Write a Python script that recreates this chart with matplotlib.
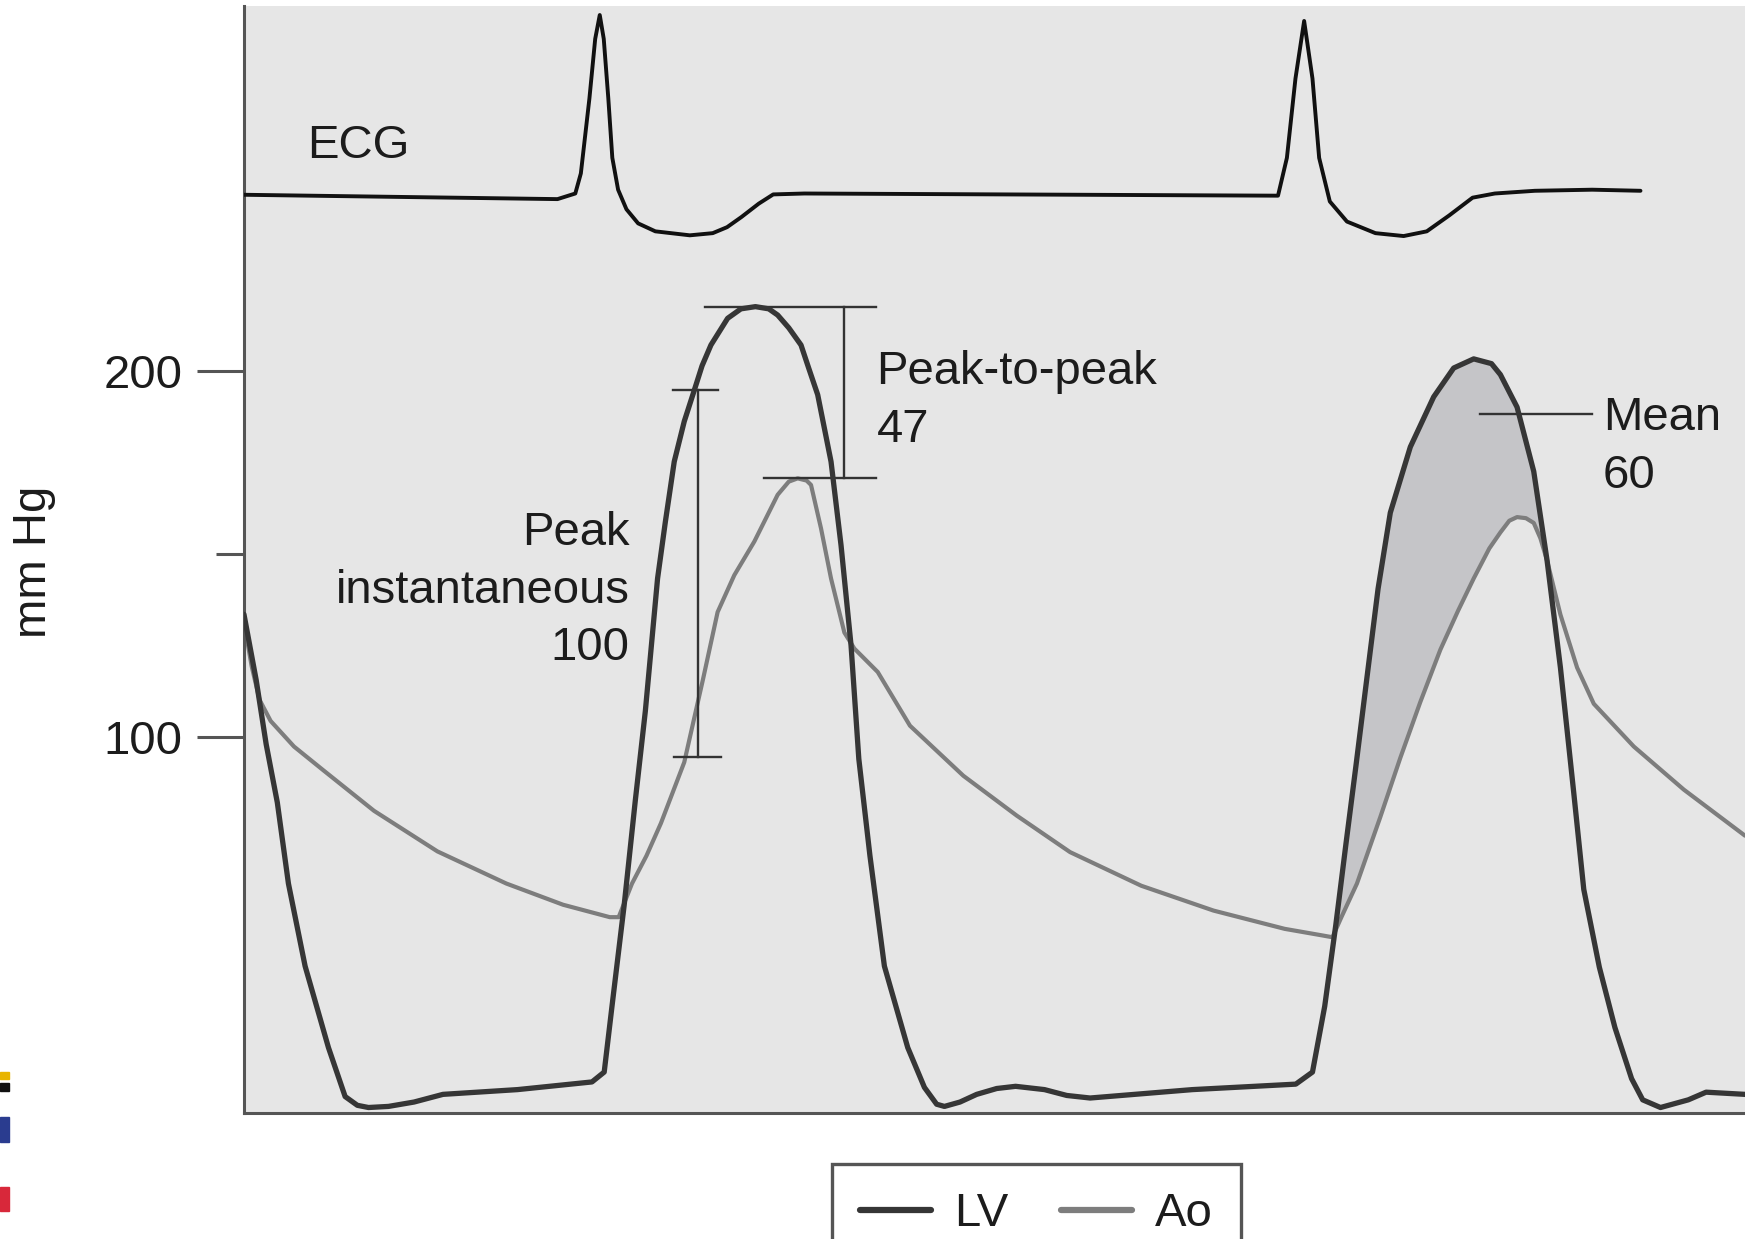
import numpy as np
import matplotlib.pyplot as plt
from matplotlib.patches import Rectangle

plt.rcParams['font.family'] = ['Liberation Sans', 'DejaVu Sans']

# time in ms across the strip, pressures in mm Hg
lv_t = [0, 11, 20, 30, 40, 55, 76, 91, 102, 112, 130, 153, 179, 246, 313, 324,
        331, 342, 352, 361, 372, 379, 387, 396, 405, 412, 420, 435, 447, 460,
        472, 480, 490, 501, 508, 516, 528, 537, 546, 553, 563, 576, 597, 612,
        623, 630, 644, 659, 677, 694, 720, 740, 761, 853, 946, 961, 972, 982,
        991, 1000, 1010, 1020, 1031, 1049, 1070, 1088, 1106, 1122, 1130, 1145,
        1160, 1172, 1184, 1196, 1205, 1219, 1233, 1248, 1258, 1274, 1299, 1315,
        1350]
lv_p = [133.5, 115.5, 97.9, 82.0, 59.8, 37.2, 14.9, 1.5, -0.9, -1.5, -1.2, 0.0,
        2.1, 3.4, 5.5, 8.2, 26.2, 54.0, 82.6, 107.0, 143.3, 158.8, 175.3, 186.3,
        194.8, 201.5, 207.2, 214.5, 217.1, 217.7, 217.1, 215.4, 211.9, 207.2,
        200.8, 193.6, 175.3, 152.4, 125.0, 93.9, 67.4, 37.2, 14.9, 4.0, -0.6,
        -1.2, 0.0, 2.1, 3.7, 4.3, 3.4, 1.8, 1.1, 3.4, 4.9, 8.2, 26.2, 48.5, 70.4,
        91.8, 116.2, 140.5, 161.3, 179.3, 193.0, 200.9, 203.4, 202.1, 199.1,
        190.2, 172.6, 148.2, 118.9, 84.6, 58.2, 36.9, 20.4, 6.4, 0.6, -1.5, 0.6,
        2.7, 2.1]

ao_t = [0, 7, 14, 24, 45, 71, 117, 174, 236, 287, 329, 337, 349, 362, 375, 396,
        413, 426, 441, 459, 480, 490, 498, 506, 510, 519, 528, 540, 549, 570,
        599, 647, 695, 743, 807, 872, 936, 968, 979, 987, 1001, 1022, 1040, 1058,
        1076, 1092, 1106, 1120, 1130, 1138, 1145, 1153, 1160, 1166, 1172, 1184,
        1199, 1214, 1250, 1295, 1350]
ao_p = [131.4, 119.2, 110.1, 104.3, 97.3, 90.9, 79.7, 68.6, 59.8, 54.0, 50.6,
        50.6, 59.8, 67.4, 76.3, 93.0, 115.9, 134.1, 144.2, 153.4, 166.2, 169.8,
        170.7, 170.1, 168.9, 157.0, 143.3, 128.5, 124.1, 117.7, 103.0, 89.3, 78.4,
        68.4, 59.2, 52.4, 47.4, 45.7, 45.1, 50.6, 59.8, 78.0, 94.2, 109.5, 123.8,
        134.5, 143.3, 151.5, 155.9, 159.1, 160.1, 159.8, 158.5, 154.3, 148.2,
        133.4, 118.9, 109.0, 97.3, 85.5, 72.9]

# ECG in mV
ecg_t = [0, 282, 298, 303, 310.7, 315.9, 320, 323.6, 327.7, 331.3, 336.5, 344,
         354.5, 370, 401, 421.6, 434.5, 447.4, 463, 476, 504, 930, 938, 945.7,
         953.5, 961, 967, 976.6, 992, 1017.6, 1043, 1063.8, 1084, 1105, 1125,
         1161, 1212.6, 1256]
ecg_mv = [0.012, -0.012, 0.019, 0.13, 0.544, 0.873, 1.005, 0.873, 0.544, 0.216,
          0.04, -0.068, -0.146, -0.19, -0.212, -0.2, -0.167, -0.111, -0.037,
          0.014, 0.019, 0.007, 0.216, 0.654, 0.972, 0.654, 0.216, -0.025, -0.136,
          -0.2, -0.216, -0.19, -0.102, -0.004, 0.019, 0.034, 0.04, 0.034]

# gradient annotations
inst_t, inst_lv, inst_ao = 408, 195.0, 94.5
p2p_t, lv_peak, ao_peak = 539.5, 217.7, 170.9
mean_start, mean_end = 979, 1172
mean_label_p = 188.4

lv_t = np.array(lv_t); lv_p = np.array(lv_p)
ao_t = np.array(ao_t); ao_p = np.array(ao_p)

fig = plt.figure(figsize=(17.45, 12.39), dpi=100)
ax = fig.add_axes([0.1398, 0.1017, 0.8602, 0.8935])
ax.set_facecolor('#e6e6e6')
ax.set_xlim(0, 1350)
ax.set_ylim(-3, 300)

# shaded area between LV and Ao during second ejection
m_lv = (lv_t >= mean_start) & (lv_t <= mean_end)
m_ao = (ao_t >= mean_start) & (ao_t <= mean_end)
ax.fill(np.concatenate([lv_t[m_lv], ao_t[m_ao][::-1]]),
        np.concatenate([lv_p[m_lv], ao_p[m_ao][::-1]]),
        color='#c5c5c8', lw=0, zorder=1)

ao_line, = ax.plot(ao_t, ao_p, color='#7d7d7d', lw=3.0, label='Ao', zorder=2,
                   solid_joinstyle='round', solid_capstyle='round')
lv_line, = ax.plot(lv_t, lv_p, color='#363636', lw=3.8, label='LV', zorder=3,
                   solid_joinstyle='round', solid_capstyle='round')

ink = '#333333'
txt = '#1c1c1c'
# peak instantaneous bracket
ax.plot([inst_t, inst_t], [inst_ao, inst_lv], color=ink, lw=1.7)
ax.plot([inst_t - 22, inst_t + 18], [inst_lv, inst_lv], color=ink, lw=1.7)
ax.plot([inst_t - 21, inst_t + 21], [inst_ao, inst_ao], color=ink, lw=1.7)
ax.text(347, 140.0, 'Peak\ninstantaneous\n100', ha='right', va='center',
        ma='right', fontsize=34, color=txt, linespacing=1.41)

# peak-to-peak bracket
ax.plot([p2p_t, p2p_t], [ao_peak, lv_peak], color=ink, lw=1.7)
ax.plot([415, 568], [lv_peak, lv_peak], color=ink, lw=1.7)
ax.plot([468, 568], [ao_peak, ao_peak], color=ink, lw=1.7)
ax.text(569, 191.8, 'Peak-to-peak\n47', ha='left', va='center',
        fontsize=34, color=txt, linespacing=1.41)

# mean gradient label
ax.plot([1112, 1212], [mean_label_p, mean_label_p], color=ink, lw=1.7)
ax.text(1222, 179.2, 'Mean\n60', ha='left', va='center',
        fontsize=34, color=txt, linespacing=1.41)

for s in ['top', 'right']:
    ax.spines[s].set_visible(False)
for s in ['left', 'bottom']:
    ax.spines[s].set_color('#555555')
    ax.spines[s].set_linewidth(2.2)

ax.set_xticks([])
ax.set_yticks([100, 200])
ax.set_yticks([150], minor=True)
ax.tick_params(axis='y', which='major', length=34, width=2.2, color='#555555',
               labelsize=34, labelcolor=txt, pad=10)
ax.tick_params(axis='y', which='minor', length=20, width=2.2, color='#555555')
ax.set_ylabel('mm Hg', fontsize=34, color=txt)
ax.yaxis.set_label_coords(-0.125, 0.498)

leg = ax.legend(handles=[lv_line, ao_line], loc='upper left',
                bbox_to_anchor=(831.7 / 1745, 1 - 1164 / 1239),
                bbox_transform=fig.transFigure, ncol=2, fontsize=34,
                frameon=True, fancybox=False, edgecolor='#555555', framealpha=1,
                handlelength=1.5, handletextpad=0.5, columnspacing=1.1,
                borderpad=0.6, borderaxespad=0)
leg.get_frame().set_linewidth(2.4)
for ln in leg.get_lines():
    ln.set_linewidth(4.5)
for t in leg.get_texts():
    t.set_color(txt)

# ECG strip on its own scale
ax_ecg = fig.add_axes(ax.get_position())
ax_ecg.patch.set_visible(False)
ax_ecg.axis('off')
ax_ecg.set_xlim(0, 1350)
ax_ecg.set_ylim(-5.06, 1.055)
ax_ecg.plot(ecg_t, ecg_mv, color='#111111', lw=2.8, solid_joinstyle='round',
            solid_capstyle='round')
ax_ecg.text(57, 0.28, 'ECG', ha='left', va='center', fontsize=34, color=txt)

# scrap of a logo at the bottom-left edge
for y0, h, c in [(1072, 7, '#e8b400'), (1083, 8, '#111111'),
                 (1117, 25, '#2a3c8f'), (1187, 24, '#d8283a')]:
    fig.patches.append(Rectangle((0, 1 - (y0 + h) / 1239), 9 / 1745, h / 1239,
                                 transform=fig.transFigure, color=c))

fig.savefig('out.png', dpi=100)
